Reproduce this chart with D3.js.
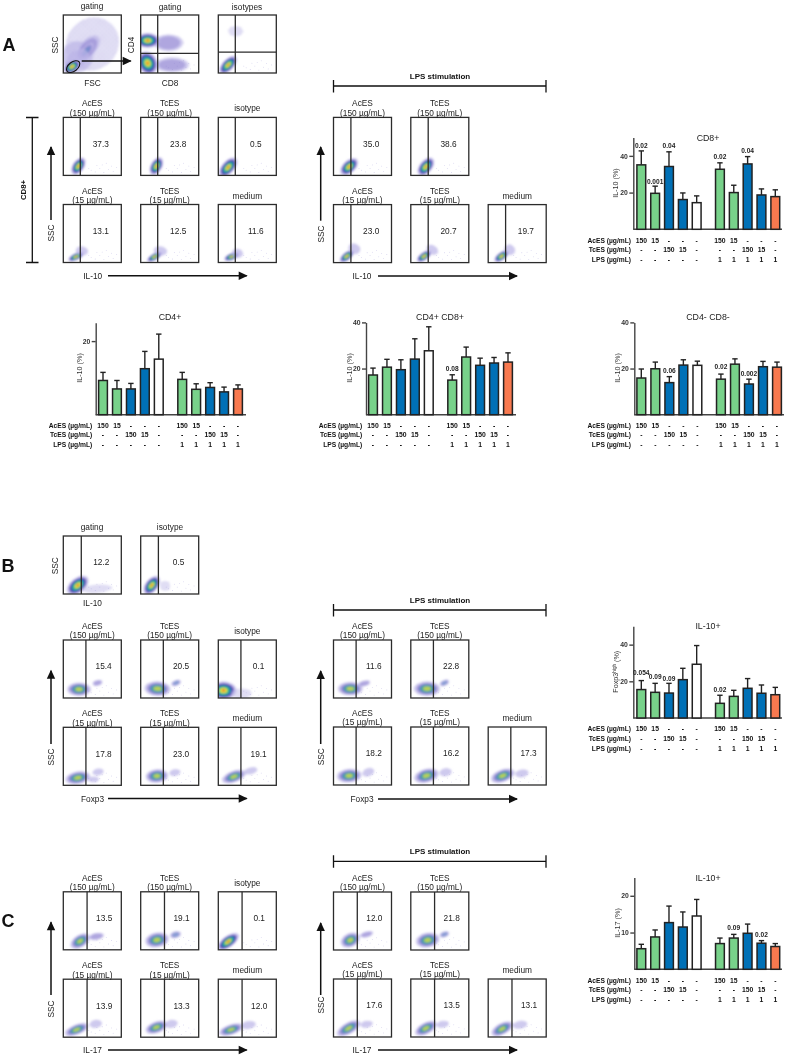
<!DOCTYPE html>
<html><head><meta charset="utf-8">
<script src="https://cdn.jsdelivr.net/npm/d3@7"></script>
<style>html,body{margin:0;padding:0;background:#fff}svg{display:block;font-family:"Liberation Sans",Arial,sans-serif;filter:blur(.38px)}</style>
</head><body><svg id="fig" width="787" height="1057"></svg>
<script>
// ---------- Bar chart data ----------
const acesRow=['150','15','-','-','-','150','15','-','-','-'];
const tcesRow=['-','-','150','15','-','-','-','150','15','-'];
const lpsRow=['-','-','-','-','-','1','1','1','1','1'];
const barSlots=[0,1,2,3,4,5.68,6.68,7.68,8.68,9.68];
const barKinds=['ac','ac','tc','tc','med','ac','ac','tc','tc','lps'];
const cd8Means=[35.1,19.6,34.2,16.2,14.5,32.7,20,35.6,18.7,17.8];
const cd8Tops=[42.7,23.5,42.2,19.8,18.2,36.2,24,39.6,22,21.5];
const cd4Means=[9.3,7,7,12.5,15.1,9.6,6.9,7.4,6.2,7];
const cd4Tops=[11.5,9.3,8.5,17.2,21.9,11.5,8.4,8.7,7.5,8.1];
const dpMeans=[17.2,20.6,19.5,24.1,27.7,15,25,21.4,22.4,22.8];
const dpTops=[20.2,24,23.8,32.9,38.1,17.3,29.3,24.5,24.8,26.8];
const dnMeans=[15.9,19.9,13.9,21.5,21.4,15.4,21.9,13.3,20.8,20.6];
const dnTops=[19.8,22.8,16.5,23.8,23.2,17.6,24.2,15.4,23.1,22.8];
const foxMeans=[15.5,14,13.6,20.9,29.3,8,11.8,16.2,13.5,12.7];
const foxTops=[20.4,18.9,18.9,27.1,39.5,12.4,15.1,21.5,18,16.7];
const il17Means=[5.6,8.8,12.7,11.5,14.5,7,8.5,9.8,7.1,6.2];
const il17Tops=[6.8,10.7,17.2,15.6,19,8.5,9.5,12.3,7.8,7];
const cd8P=[[0,'0.02',45.6],[1,'0.001',25.9],[2,'0.04',45.4],[5,'0.02',39.6],[7,'0.04',42.8]];
const dpP=[[5,'0.08',20.1]];
const dnP=[[2,'0.06',19.3],[5,'0.02',20.8],[7,'0.002',17.7]];
const foxP=[[0,'0.054',24.7],[1,'0.09',22.7],[2,'0.09',21.6],[5,'0.02',15.3]];
const il17P=[[6,'0.09',11.25],[8,'0.02',9.5]];

// ---------- Flow panel data (population ellipses: cx,cy,rx,ry,rot,levels; axis units 0-100) ----------
const titles6=[['AcES','(150 µg/mL)'],['TcES','(150 µg/mL)'],['isotype'],['AcES','(15 µg/mL)'],['TcES','(15 µg/mL)'],['medium']];
const aLeftVals=['37.3','23.8','0.5','13.1','12.5','11.6'];
const aRightVals=['35.0','38.6',null,'23.0','20.7','19.7'];
const bLeftVals=['15.4','20.5','0.1','17.8','23.0','19.1'];
const bRightVals=['11.6','22.8',null,'18.2','16.2','17.3'];
const cLeftVals=['13.5','19.1','0.1','13.9','13.3','12.0'];
const cRightVals=['12.0','21.8',null,'17.6','13.5','13.1'];
const aLeftPops=[
 [[26,16,17,10,55,7]],[[27,16,17,10,60,7]],[[17,14,21,11,48,7]],
 [[22,10,15,6,25,7],[32,20,8,11,80,2]],[[24,10,15,6,30,7],[34,20,8,12,80,2]],[[23,10,14,6,22,7],[33,16,8,10,80,2]]];
const aRightPops=[
 [[27,15,19,11,42,7]],[[26,15,19,11,50,7]],[],
 [[23,11,15,7,38,7],[36,24,9,11,60,2]],[[23,11,15,7,35,7],[37,22,8,11,60,2]],[[23,11,15,7,35,7],[37,22,9,10,50,2]]];
const bTopPops=[[[25,15,22,13,38,7],[58,9,26,7,5,1]],[[19,15,19,11,52,7],[42,14,9,9,0,1]]];
const bLeftPops=[
 [[27,15,21,12,0,6],[59,26,9,5,15,3]],[[29,16,23,13,-3,6],[61,26,9,5,22,4]],[[9,13,23,16,0,7],[40,8,18,9,0,1]],
 [[25,13,22,11,10,6],[60,23,10,6,10,2],[52,10,10,5,0,2]],[[28,16,20,12,5,6],[59,22,10,6,10,2]],[[27,15,22,10,20,6],[56,25,12,6,15,2]]];
const bRightPops=[
 [[29,16,22,12,0,6],[53,25,11,5,15,3]],[[28,16,23,13,0,6],[58,26,9,5,25,4]],[],
 [[27,16,22,12,5,6],[60,22,11,7,20,2]],[[27,16,22,12,15,6],[60,22,11,7,10,2]],[[25,16,22,11,20,6],[58,20,12,7,10,2]]];
const cLeftPops=[
 [[29,15,19,11,32,6],[57,23,14,6,10,3]],[[28,17,21,13,10,6],[60,26,10,6,15,4]],[[17,14,22,10,36,7]],
 [[23,13,22,9,22,6],[56,23,11,7,10,2]],[[27,17,20,10,20,6],[53,23,11,7,10,2]],[[22,13,22,9,18,6],[52,21,13,7,10,2]]];
const cRightPops=[
 [[29,17,18,12,25,6],[57,27,12,5,15,3]],[[29,17,21,13,10,6],[58,27,9,5,20,4]],[],
 [[26,15,23,10,30,6],[57,22,11,6,10,2]],[[26,15,21,10,28,6],[55,22,11,6,10,2]],[[24,14,21,10,28,6],[55,21,13,7,10,2]]];
const gatingPops=[[[50,50,44,48,-45,1],[24,28,28,28,0,2],[42,42,28,15,50,3],[40,38,17,7,50,4],[23,22,24,16,40,2],[15,11,16,10,32,7]],
 [[48,52,26,15,0,3],[54,14,30,13,0,3],[12,56,21,13,0,7],[12,17,17,21,25,7]],
 [[17,14,20,10,46,7],[30,72,13,9,0,1]]];
const strayDots=[[48,9],[55,6],[63,12],[70,5],[78,10],[86,7],[58,17],[67,18],[92,14],[74,21],[44,12],[83,16]];
const ringScale=[1,.92,.76,.6,.44,.28,.12];
const ringFill=['url(#haze)','#b3abe4','#4b38ae','#1c84b6','#3ebf78','#e6e23f','#e8562a'];
const alphaFull=[1,.8,.95,1,1,1,1];
const alphaDiffuse=[1,.55,.38,.5,.62,.72];
const alphaFaint=[1,.38,.24,.28];

// ---------- helpers ----------
const svg=d3.select('#fig');
const defs=svg.append('defs');
const pat=defs.append('pattern').attr('id','haze').attr('width',3).attr('height',3).attr('patternUnits','userSpaceOnUse');
pat.append('rect').attr('width',3).attr('height',3).attr('fill','#d6d1f1').attr('opacity',.5);
pat.append('rect').attr('x',0).attr('y',0).attr('width',1).attr('height',1).attr('fill','#6f60c4').attr('opacity',.5);
pat.append('rect').attr('x',2).attr('y',1).attr('width',1).attr('height',1).attr('fill','#8f84d4').attr('opacity',.4);
defs.append('filter').attr('id','soft').attr('x','-30%').attr('y','-30%').attr('width','160%').attr('height','160%')
  .append('feGaussianBlur').attr('stdDeviation',1.05);
const INK='#2b2b2b', TXT='#222';
let clipN=0;
function txt(g,x,y,s,o={}){
  const t=g.append('text').attr('x',x).attr('y',y).attr('text-anchor',o.anchor||'middle').attr('dominant-baseline','central')
   .attr('font-size',o.size||8.3).attr('font-weight',o.weight||'normal').attr('fill',o.fill||TXT).text(s);
  if(o.rot) t.attr('transform',`rotate(-90 ${x} ${y})`);
  return t;
}
function arrow(g,x1,y1,x2,y2){
  g.append('line').attr('x1',x1).attr('y1',y1).attr('x2',x2).attr('y2',y2).attr('stroke','#111').attr('stroke-width',1.5);
  const horiz=y1===y2;
  const p=d3.path();
  if(horiz){p.moveTo(x2+1,y2);p.lineTo(x2-8,y2-4.2);p.lineTo(x2-8,y2+4.2);}
  else{p.moveTo(x2,y2-1);p.lineTo(x2-4.2,y2+8);p.lineTo(x2+4.2,y2+8);}
  p.closePath();g.append('path').attr('d',p).attr('fill','#111');
}
function flowPanel(left,top,opt){
  const W=58,H=58;
  const x=d3.scaleLinear([0,100],[left,left+W]), y=d3.scaleLinear([0,100],[top+H,top]);
  const g=svg.append('g');
  const id='clip'+(clipN++);
  defs.append('clipPath').attr('id',id).append('rect').attr('x',left).attr('y',top).attr('width',W).attr('height',H);
  const inner=g.append('g').attr('clip-path',`url(#${id})`).append('g').attr('filter','url(#soft)');
  (opt.pops||[]).forEach(p=>{
    const [cx,cy,rx,ry,rot,lv]=p;
    const al=lv===7?alphaFull:lv===6?alphaDiffuse:alphaFaint;
    for(let i=0;i<lv;i++){
      inner.append('ellipse').attr('cx',x(cx)).attr('cy',y(cy))
        .attr('rx',x(rx*ringScale[i])-x(0)).attr('ry',x(ry*ringScale[i])-x(0))
        .attr('transform',`rotate(${-rot} ${x(cx)} ${y(cy)})`)
        .attr('fill',ringFill[i]).attr('opacity',al[i]);
    }
  });
  if(opt.stray!==false) g.selectAll('circle.s').data(strayDots).join('circle').attr('class','s')
     .attr('cx',d=>x(d[0])).attr('cy',d=>y(d[1])).attr('r',.4).attr('fill','#8d83d0').attr('opacity',.6);
  g.append('rect').attr('x',left).attr('y',top).attr('width',W).attr('height',H).attr('fill','none').attr('stroke',INK).attr('stroke-width',1.3);
  if(opt.gate!=null) g.append('line').attr('x1',x(opt.gate)).attr('x2',x(opt.gate)).attr('y1',top).attr('y2',top+H).attr('stroke',INK).attr('stroke-width',1.3);
  if(opt.hgate!=null) g.append('line').attr('x1',left).attr('x2',left+W).attr('y1',y(opt.hgate)).attr('y2',y(opt.hgate)).attr('stroke',INK).attr('stroke-width',1.3);
  if(opt.value) txt(g,(x(opt.gate)+left+W)/2,top+26.4,opt.value);
  return {x,y,g};
}
function flowBlock(cols,rows,gate,vals,pops){
  vals.forEach((v,i)=>{
    if(v===null) return;
    const c=i%3,r=Math.floor(i/3),l=cols[c],t=rows[r];
    flowPanel(l,t,{gate,value:v,pops:pops[i]});
    const tt=titles6[i],cx=l+29;
    if(tt.length===2){txt(svg,cx,t-14,tt[0]);txt(svg,cx,t-4.7,tt[1]);}
    else txt(svg,cx,t-9,tt[0]);
  });
}
const leftCols=[63.3,140.7,218.3], rightCols=[333.5,410.8,488.2];

// ---------- Panel A ----------
txt(svg,9,45,'A',{size:18,weight:'bold',fill:'#111'});
const ga=flowPanel(leftCols[0],15,{pops:gatingPops[0],stray:false});
ga.g.append('ellipse').attr('cx',ga.x(17)).attr('cy',ga.y(11)).attr('rx',7.6).attr('ry',4.6)
  .attr('transform',`rotate(-38 ${ga.x(17)} ${ga.y(11)})`).attr('fill','none').attr('stroke','#111').attr('stroke-width',1.1);
flowPanel(leftCols[1],15,{gate:29.3,hgate:34,pops:gatingPops[1]});
flowPanel(leftCols[2],15,{gate:29.3,hgate:36,pops:gatingPops[2]});
txt(svg,92,6,'gating');txt(svg,170,7,'gating');txt(svg,247,7,'isotypes');
txt(svg,55,45,'SSC',{rot:1});txt(svg,131,45,'CD4',{rot:1});txt(svg,92.5,83,'FSC');txt(svg,170,83,'CD8');
arrow(svg,81.7,61,130.7,61);
flowBlock(leftCols,[117.4,204.5],29.3,aLeftVals,aLeftPops);
svg.append('path').attr('d','M26,117.5H38.5M32.3,117.5V262.5M26,262.5H38.5').attr('fill','none').attr('stroke','#111').attr('stroke-width',1.3);
txt(svg,23,190,'CD8+',{rot:1,weight:'bold',size:7.8,fill:'#111'});
arrow(svg,51,220,51,147);txt(svg,51,233,'SSC',{rot:1});
txt(svg,92.7,275.7,'IL-10');arrow(svg,108,275.7,246.7,275.7);
function lpsBracket(y){
  svg.append('path').attr('d',`M333.5,${y-6}V${y+6.5}M333.5,${y}H546M546,${y-6}V${y+6.5}`).attr('fill','none').attr('stroke','#111').attr('stroke-width',1.3);
  txt(svg,440,y-9.4,'LPS stimulation',{weight:'bold',size:8,fill:'#111'});
}
lpsBracket(86);
flowBlock(rightCols,[117.4,204.6],30,aRightVals,aRightPops);
arrow(svg,320.7,220.7,320.7,147);txt(svg,321,234,'SSC',{rot:1});
txt(svg,362,276,'IL-10');arrow(svg,378,276,517,276);

// ---------- Panel B ----------
txt(svg,8,566,'B',{size:18,weight:'bold',fill:'#111'});
flowPanel(leftCols[0],536,{gate:31,value:'12.2',pops:bTopPops[0]});
flowPanel(leftCols[1],536,{gate:30.5,value:'0.5',pops:bTopPops[1]});
txt(svg,92,527,'gating');txt(svg,170,527,'isotype');
txt(svg,55,565.7,'SSC',{rot:1});txt(svg,92.5,603,'IL-10');
flowBlock(leftCols,[640,727.3],39,bLeftVals,bLeftPops);
arrow(svg,51,744,51,670.7);txt(svg,51,757,'SSC',{rot:1});
txt(svg,92.5,798.5,'Foxp3');arrow(svg,108,798.5,246.7,798.5);
lpsBracket(610);
flowBlock(rightCols,[640,727],39,bRightVals,bRightPops);
arrow(svg,320.7,744,320.7,671);txt(svg,321,756.7,'SSC',{rot:1});
txt(svg,362,799,'Foxp3');arrow(svg,378,799,517,799);

// ---------- Panel C ----------
txt(svg,8,921,'C',{size:18,weight:'bold',fill:'#111'});
flowBlock(leftCols,[891.8,979.2],41,cLeftVals,cLeftPops);
arrow(svg,51,995,51,922.3);txt(svg,51,1009,'SSC',{rot:1});
txt(svg,92.5,1050,'IL-17');arrow(svg,108,1050,246.7,1050);
lpsBracket(861.3);
flowBlock(rightCols,[892,979],41,cRightVals,cRightPops);
arrow(svg,320.7,995,320.7,923);txt(svg,321,1005,'SSC',{rot:1});
txt(svg,362,1050,'IL-17');arrow(svg,378,1050,517,1050);

// ---------- Bar charts ----------
const barFill={ac:'#78d28a',tc:'#0070b6',med:'#ffffff',lps:'#f8794f'};
function barChart(c){
  const g=svg.append('g');
  const x=d3.scaleLinear([0,9.68],[c.x0,c.x1]);
  const y=d3.scaleLinear([0,c.max],[c.base,c.top]);
  g.append('line').attr('x1',c.axisX).attr('x2',c.endX).attr('y1',c.base).attr('y2',c.base).attr('stroke','#444').attr('stroke-width',1.5);
  const ax=g.append('g').attr('transform',`translate(${c.axisX},0)`).call(d3.axisLeft(y).tickValues(c.ticks).tickSize(4).tickSizeOuter(0).tickPadding(1.5));
  ax.selectAll('path,line').attr('stroke','#444').attr('stroke-width',1.4);
  ax.selectAll('text').attr('font-size',6.8).attr('font-weight','bold').attr('fill','#333').attr('font-family','"Liberation Sans",Arial,sans-serif');
  const pts=c.means.map((m,i)=>({m,t:c.tops[i],k:barKinds[i],s:barSlots[i]}));
  g.selectAll('line.err').data(pts).join('line').attr('class','err').attr('x1',d=>x(d.s)).attr('x2',d=>x(d.s)).attr('y1',d=>y(d.m)).attr('y2',d=>y(d.t)).attr('stroke','#222').attr('stroke-width',1.4);
  g.selectAll('line.cap').data(pts).join('line').attr('class','cap').attr('x1',d=>x(d.s)-2.7).attr('x2',d=>x(d.s)+2.7).attr('y1',d=>y(d.t)).attr('y2',d=>y(d.t)).attr('stroke','#222').attr('stroke-width',1.4);
  g.selectAll('rect.bar').data(pts).join('rect').attr('class','bar').attr('x',d=>x(d.s)-4.4).attr('width',8.8).attr('y',d=>y(d.m)).attr('height',d=>c.base-y(d.m))
    .attr('fill',d=>barFill[d.k]).attr('stroke','#222').attr('stroke-width',1.5);
  txt(g,c.titleX,c.titleY,c.title,{size:8.8});
  const yl=txt(g,c.ylabX,c.ylabY,c.ylab,{rot:1,size:7.2,fill:'#333'});
  if(c.sup) yl.append('tspan').attr('font-size',4.6).attr('dy',-2).text(c.sup);
  if(c.sup) yl.append('tspan').attr('dy',2).text(' (%)');
  (c.p||[]).forEach(([i,s,v])=>txt(g,x(barSlots[i]),y(v),s,{size:6.6,weight:'bold',fill:'#222'}));
  [['AcES (µg/mL)',acesRow],['TcES (µg/mL)',tcesRow],['LPS (µg/mL)',lpsRow]].forEach(([lab,row],ri)=>{
    const ry=c.base+c.rowOff+ri*9.65;
    txt(g,c.rowX,ry,lab,{anchor:'end',size:6.7,weight:'bold',fill:'#111'});
    row.forEach((s,i)=>txt(g,x(barSlots[i]),ry,s,{size:6.8,weight:'bold',fill:'#111'}));
  });
}
barChart({title:'CD8+',titleX:708,titleY:138,ylab:'IL-10 (%)',ylabX:615.7,ylabY:183,means:cd8Means,tops:cd8Tops,p:cd8P,ticks:[20,40],max:50,
  base:229.3,top:137.5,axisX:633.3,endX:782,x0:641.3,x1:775.3,rowX:631,rowOff:10.7});
barChart({title:'CD4+',titleX:170,titleY:316.7,ylab:'IL-10 (%)',ylabX:79,ylabY:368,means:cd4Means,tops:cd4Tops,ticks:[20],max:25,
  base:414.7,top:322.7,axisX:95.7,endX:246,x0:103,x1:238,rowX:92.3,rowOff:10.3});
barChart({title:'CD4+ CD8+',titleX:440,titleY:316.7,ylab:'IL-10 (%)',ylabX:349,ylabY:368,means:dpMeans,tops:dpTops,p:dpP,ticks:[20,40],max:40,
  base:414.7,top:322.4,axisX:366,endX:516,x0:373,x1:508,rowX:362.3,rowOff:10.3});
barChart({title:'CD4- CD8-',titleX:708,titleY:316.7,ylab:'IL-10 (%)',ylabX:617,ylabY:368,means:dnMeans,tops:dnTops,p:dnP,ticks:[20,40],max:40,
  base:414.7,top:322.4,axisX:634.3,endX:784,x0:641.3,x1:777,rowX:631,rowOff:10.3});
barChart({title:'IL-10+',titleX:708,titleY:626,ylab:'Foxp3',sup:'high',ylabX:615.7,ylabY:671.7,means:foxMeans,tops:foxTops,p:foxP,ticks:[20,40],max:50,
  base:718,top:626.3,axisX:633.3,endX:782,x0:641.3,x1:775.3,rowX:631,rowOff:10.7});
barChart({title:'IL-10+',titleX:708,titleY:878,ylab:'IL-17 (%)',ylabX:617,ylabY:923,means:il17Means,tops:il17Tops,p:il17P,ticks:[10,20],max:25,
  base:969.3,top:877.4,axisX:634.3,endX:782,x0:641.3,x1:775.3,rowX:631,rowOff:10.7});
</script></body></html>
